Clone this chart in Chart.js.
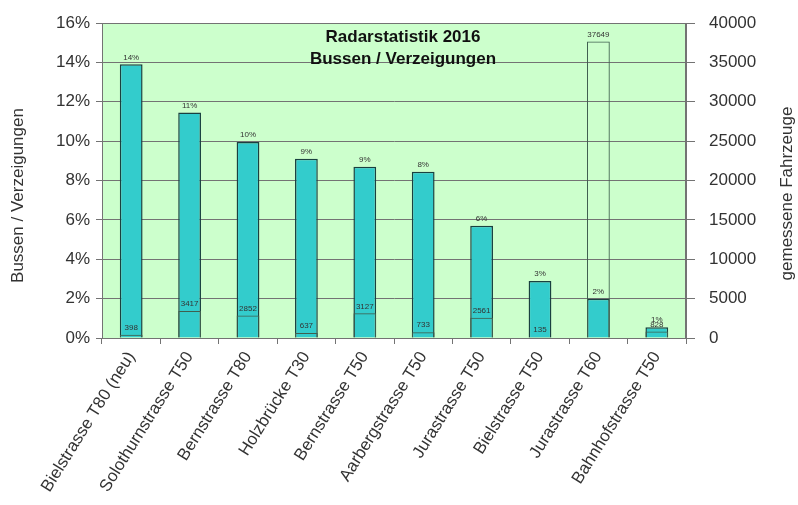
<!DOCTYPE html>
<html>
<head>
<meta charset="utf-8">
<script src="https://cdn.jsdelivr.net/npm/chart.js@4"></script>
<style>
  body { margin: 0; background: #fff; }
  #wrap { width: 798px; height: 505px; }
</style>
</head>
<body>
<div id="wrap"><canvas id="radar" width="798" height="505"></canvas></div>
<script>
const strassen = [
  "Bielstrasse T80 (neu)", "Solothurnstrasse T50", "Bernstrasse T80", "Holzbrücke T30",
  "Bernstrasse T50", "Aarbergstrasse T50", "Jurastrasse T50", "Bielstrasse T50",
  "Jurastrasse T60", "Bahnhofstrasse T50"
];
const bussenProzent = [13.9, 11.45, 9.95, 9.1, 8.7, 8.45, 5.7, 2.9, 2.0, 0.55];
const fahrzeuge = [398, 3417, 2852, 637, 3127, 733, 2561, 135, 37649, 828];
const prozentTicks = [0, 2, 4, 6, 8, 10, 12, 14, 16];
const fahrzeugTicks = [0, 5000, 10000, 15000, 20000, 25000, 30000, 35000, 40000];

const FONT = "'Liberation Sans', Arial, sans-serif";
const GRID = "#737373";

// green plot background + frame
const plotBg = {
  id: "plotBg",
  beforeDraw(chart) {
    const { ctx, chartArea: a } = chart;
    ctx.save();
    ctx.fillStyle = "#ccffcc";
    ctx.fillRect(a.left, a.top, a.right - a.left, a.bottom - a.top);
    ctx.restore();
  },
  afterDatasetsDraw(chart) {
    const { ctx, chartArea: a } = chart;
    ctx.save();
    ctx.strokeStyle = GRID;
    ctx.lineWidth = 1;
    ctx.strokeRect(a.left + 0.5, a.top + 0.5, a.right - a.left - 1, a.bottom - a.top);
    ctx.restore();
  }
};

// small value labels above the bars
const barLabels = {
  id: "barLabels",
  afterDatasetsDraw(chart) {
    const { ctx } = chart;
    ctx.save();
    ctx.font = "8px " + FONT;
    ctx.fillStyle = "#333";
    ctx.textAlign = "center";
    ctx.textBaseline = "bottom";
    chart.data.datasets.forEach((ds, i) => {
      chart.getDatasetMeta(i).data.forEach((bar, j) => {
        const v = ds.data[j];
        const txt = ds.yAxisID === "y" ? Math.round(v) + "%" : String(v);
        ctx.fillText(txt, bar.x, bar.y - 3);
      });
    });
    ctx.restore();
  }
};

// chart title inside the plot area, axis titles both reading upwards
const texts = {
  id: "texts",
  afterDraw(chart) {
    const { ctx, chartArea: a } = chart;
    const cx = (a.left + a.right) / 2 + 9;
    ctx.save();
    ctx.font = "bold 17px " + FONT;
    ctx.fillStyle = "#111";
    ctx.textAlign = "center";
    ctx.textBaseline = "middle";
    ctx.fillText("Radarstatistik 2016", cx, a.top + 14);
    ctx.fillText("Bussen / Verzeigungen", cx, a.top + 36);

    ctx.font = "17px " + FONT;
    ctx.fillStyle = "#333";
    const mid = (a.top + a.bottom) / 2;
    ctx.translate(18, mid + 15);
    ctx.rotate(-Math.PI / 2);
    ctx.fillText("Bussen / Verzeigungen", 0, 0);
    ctx.setTransform(1, 0, 0, 1, 0, 0);
    ctx.translate(787, mid + 13);
    ctx.rotate(-Math.PI / 2);
    ctx.fillText("gemessene Fahrzeuge", 0, 0);
    ctx.restore();
  }
};

new Chart(document.getElementById("radar"), {
  type: "bar",
  data: {
    labels: strassen,
    datasets: [
      {
        label: "Bussen / Verzeigungen",
        data: bussenProzent,
        yAxisID: "y",
        backgroundColor: "#33cccc",
        borderColor: "#1a4040",
        borderWidth: 1.5,
        grouped: false,
        order: 2,
        categoryPercentage: 1,
        barPercentage: 0.39
      },
      {
        label: "gemessene Fahrzeuge",
        data: fahrzeuge,
        yAxisID: "y1",
        backgroundColor: "rgba(0,0,0,0)",
        borderColor: "#3f5f4f",
        borderWidth: 1,
        grouped: false,
        order: 1,
        categoryPercentage: 1,
        barPercentage: 0.39
      }
    ]
  },
  options: {
    responsive: false,
    animation: false,
    layout: { padding: { top: 23, left: 0, right: 0, bottom: 0 } },
    plugins: {
      legend: { display: false },
      tooltip: { enabled: false }
    },
    scales: {
      x: {
        grid: { display: true, drawOnChartArea: false, offset: true, color: GRID, tickLength: 6 },
        border: { color: GRID },
        ticks: { color: "#333", font: { family: FONT, size: 17 }, minRotation: 58, maxRotation: 58, autoSkip: false, padding: 4 },
        afterFit: (s) => { s.height = 167; }
      },
      y: {
        position: "left",
        min: 0,
        max: 16,
        afterBuildTicks: (s) => { s.ticks = prozentTicks.map((v) => ({ value: v })); },
        ticks: { callback: (v) => v + "%", color: "#333", font: { family: FONT, size: 17 }, padding: 6 },
        grid: { color: GRID, tickLength: 6 },
        border: { color: GRID },
        afterFit: (s) => { s.width = 102; }
      },
      y1: {
        position: "right",
        min: 0,
        max: 40000,
        afterBuildTicks: (s) => { s.ticks = fahrzeugTicks.map((v) => ({ value: v })); },
        ticks: { callback: (v) => String(v), color: "#333", font: { family: FONT, size: 17, lineHeight: 1 }, padding: 14 },
        grid: { drawOnChartArea: false, color: GRID, tickLength: 9 },
        border: { color: GRID },
        afterFit: (s) => { s.width = 112; }
      }
    }
  },
  plugins: [plotBg, barLabels, texts]
});
</script>
</body>
</html>
